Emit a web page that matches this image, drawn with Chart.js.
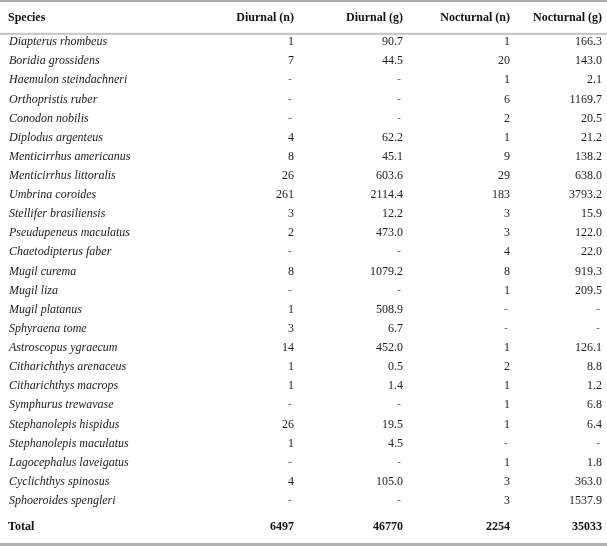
<!DOCTYPE html>
<html>
<head>
<meta charset="utf-8">
<script src="https://cdn.jsdelivr.net/npm/chart.js@4/dist/chart.umd.min.js"></script>
<style>
  html, body { margin: 0; padding: 0; background: #ffffff; }
  #wrap { width: 607px; height: 546px; }
</style>
</head>
<body>
<div id="wrap"><canvas id="c" width="607" height="546"></canvas></div>
<script>
// ---- Data ----
const headers = ["Species", "Diurnal (n)", "Diurnal (g)", "Nocturnal (n)", "Nocturnal (g)"];
const species = [
  "Diapterus rhombeus", "Boridia grossidens", "Haemulon steindachneri", "Orthopristis ruber",
  "Conodon nobilis", "Diplodus argenteus", "Menticirrhus americanus", "Menticirrhus littoralis",
  "Umbrina coroides", "Stellifer brasiliensis", "Pseudupeneus maculatus", "Chaetodipterus faber",
  "Mugil curema", "Mugil liza", "Mugil platanus", "Sphyraena tome", "Astroscopus ygraecum",
  "Citharichthys arenaceus", "Citharichthys macrops", "Symphurus trewavase",
  "Stephanolepis hispidus", "Stephanolepis maculatus", "Lagocephalus laveigatus",
  "Cyclichthys spinosus", "Sphoeroides spengleri"
];
const diurnalN   = ["1","7","-","-","-","4","8","26","261","3","2","-","8","-","1","3","14","1","1","-","26","1","-","4","-"];
const diurnalG   = ["90.7","44.5","-","-","-","62.2","45.1","603.6","2114.4","12.2","473.0","-","1079.2","-","508.9","6.7","452.0","0.5","1.4","-","19.5","4.5","-","105.0","-"];
const nocturnalN = ["1","20","1","6","2","1","9","29","183","3","3","4","8","1","-","-","1","2","1","1","1","-","1","3","3"];
const nocturnalG = ["166.3","143.0","2.1","1169.7","20.5","21.2","138.2","638.0","3793.2","15.9","122.0","22.0","919.3","209.5","-","-","126.1","8.8","1.2","6.8","6.4","-","1.8","363.0","1537.9"];
const totalLabel = "Total";
const totals = ["6497", "46770", "2254", "35033"];

// ---- Layout (style only) ----
const colRight = [294, 403, 510, 602];   // right edge of numeric columns (px on x scale)
const nameLeft = 9;
const headerRow = -1.26;                  // row positions on y scale (row index units)
const totalRow = 25.37;
const serif = "'Liberation Serif', 'Times New Roman', serif";

const tablePlugin = {
  id: 'tablePlugin',
  afterDraw(chart) {
    const ctx = chart.ctx;
    const xs = chart.scales.x, ys = chart.scales.y;
    const X = v => xs.getPixelForValue(v);
    const Y = v => ys.getPixelForValue(v);
    ctx.save();
    // rules
    ctx.fillStyle = '#a9a9a9';
    ctx.fillRect(0, Y(-2.2), chart.width, 2);
    ctx.fillStyle = '#c4c4c4';
    ctx.fillRect(0, Y(-0.48), chart.width, 2);
    ctx.fillStyle = '#b0b0b0';
    ctx.fillRect(0, Y(26.2), chart.width, 3);

    ctx.textBaseline = 'middle';
    // header
    ctx.fillStyle = '#111';
    ctx.font = "bold 12px " + serif;
    ctx.textAlign = 'left';
    ctx.fillText(headers[0], X(nameLeft) - 1, Y(headerRow));
    ctx.textAlign = 'right';
    for (let c = 1; c < headers.length; c++) ctx.fillText(headers[c], X(colRight[c - 1]), Y(headerRow));

    // body
    const cols = [diurnalN, diurnalG, nocturnalN, nocturnalG];
    ctx.fillStyle = '#222';
    species.forEach((s, i) => {
      ctx.font = "italic 12px " + serif;
      ctx.textAlign = 'left';
      ctx.fillText(s, X(nameLeft), Y(i));
      ctx.font = "12px " + serif;
      ctx.textAlign = 'right';
      cols.forEach((col, c) => {
        const v = col[i];
        if (v === '-') {
          ctx.fillStyle = '#777';
          ctx.fillText('-', X(colRight[c]) - 2, Y(i));
          ctx.fillStyle = '#222';
        } else {
          ctx.fillText(v, X(colRight[c]), Y(i));
        }
      });
    });

    // total
    ctx.fillStyle = '#111';
    ctx.font = "bold 12px " + serif;
    ctx.textAlign = 'left';
    ctx.fillText(totalLabel, X(nameLeft) - 1, Y(totalRow));
    ctx.textAlign = 'right';
    totals.forEach((t, c) => ctx.fillText(t, X(colRight[c]), Y(totalRow)));
    ctx.restore();
  }
};

new Chart(document.getElementById('c'), {
  type: 'scatter',
  data: { datasets: [{ data: species.map((s, i) => ({ x: 0, y: i })), pointRadius: 0, pointHoverRadius: 0 }] },
  options: {
    responsive: false,
    devicePixelRatio: 1,
    animation: false,
    events: [],
    layout: { padding: 0 },
    plugins: { legend: { display: false }, tooltip: { enabled: false } },
    scales: {
      x: { type: 'linear', min: 0, max: 607, display: false },
      y: { type: 'linear', min: -2.197, max: 26.36, reverse: true, display: false }
    }
  },
  plugins: [tablePlugin]
});
</script>
</body>
</html>
